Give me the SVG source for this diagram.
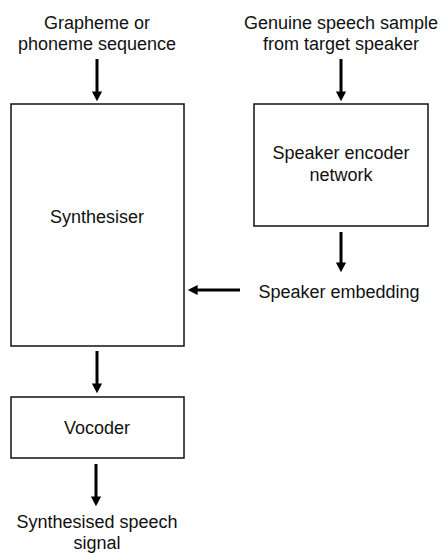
<svg xmlns="http://www.w3.org/2000/svg" width="441" height="553" viewBox="0 0 441 553">
<style>
text{font-family:"Liberation Sans",Arial,sans-serif;font-size:18px;fill:#111;text-anchor:middle}
.box{fill:#fff;stroke:#111;stroke-width:1.5}
.conn{stroke:#000;stroke-width:3;fill:none}
</style>
<defs>
<marker id="ah" markerWidth="4" markerHeight="4" refX="1.2" refY="2" orient="auto" markerUnits="strokeWidth">
<path d="M0,0.3 L3.3,2 L0,3.7 Z" fill="#000"/>
</marker>
</defs>
<rect width="441" height="553" fill="#fff"/>
<g id="input-text">
<text x="97" y="28.5">Grapheme or</text>
<text x="97" y="50">phoneme sequence</text>
</g>
<g id="sample-text">
<text x="341" y="28.5">Genuine speech sample</text>
<text x="341" y="50">from target speaker</text>
</g>
<g id="synthesiser">
<rect class="box" x="11" y="104" width="173" height="242"/>
<text x="97" y="223">Synthesiser</text>
</g>
<g id="encoder">
<rect class="box" x="254" y="104" width="174" height="122"/>
<text x="341" y="159">Speaker encoder</text>
<text x="341" y="181">network</text>
</g>
<g id="embedding">
<text x="339" y="298">Speaker embedding</text>
</g>
<g id="vocoder">
<rect class="box" x="11" y="397" width="173" height="61"/>
<text x="97" y="434">Vocoder</text>
</g>
<g id="output-text">
<text x="97" y="528">Synthesised speech</text>
<text x="97" y="549">signal</text>
</g>
<g id="connectors">
<line class="conn" x1="97" y1="59" x2="97" y2="95" marker-end="url(#ah)"/>
<line class="conn" x1="341" y1="59" x2="341" y2="95" marker-end="url(#ah)"/>
<line class="conn" x1="341" y1="232" x2="341" y2="266" marker-end="url(#ah)"/>
<line class="conn" x1="240" y1="290" x2="194" y2="290" marker-end="url(#ah)"/>
<line class="conn" x1="97" y1="351" x2="97" y2="387" marker-end="url(#ah)"/>
<line class="conn" x1="96" y1="464" x2="96" y2="500" marker-end="url(#ah)"/>
</g>
</svg>
